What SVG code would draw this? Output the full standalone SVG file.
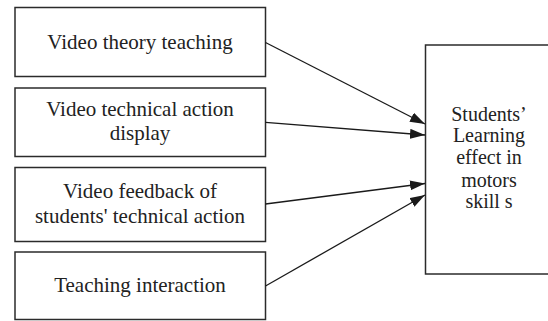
<svg xmlns="http://www.w3.org/2000/svg" width="548" height="321" viewBox="0 0 548 321">
<style>
.box{fill:#fff;stroke:#2b2b2b;stroke-width:1.5}
.lbl{font-family:'Liberation Serif','DejaVu Serif',serif;font-size:21px;fill:#222;text-anchor:middle}
.rl{font-size:20px}
.conn{stroke:#1a1a1a;stroke-width:1.3;fill:none;marker-end:url(#ah)}
</style>
<defs>
<marker id="ah" markerUnits="userSpaceOnUse" markerWidth="16" markerHeight="11" refX="15" refY="5" orient="auto" viewBox="0 0 16 11">
<path d="M0,0 L15,5 L0,10 z" fill="#1a1a1a"/>
</marker>
</defs>
<rect width="548" height="321" fill="#fff"/>
<g id="n1"><rect class="box" x="15" y="7.5" width="250.5" height="69"/><text class="lbl" font-family="Liberation Serif, serif" x="140" y="48.5">Video theory teaching</text></g>
<g id="n2"><rect class="box" x="15" y="88" width="250.5" height="68.5"/><text class="lbl" font-family="Liberation Serif, serif" x="140" y="116">Video technical action</text><text class="lbl" font-family="Liberation Serif, serif" x="140" y="140">display</text></g>
<g id="n3"><rect class="box" x="15" y="167.5" width="250.5" height="74"/><text class="lbl" font-family="Liberation Serif, serif" x="140" y="198">Video feedback of</text><text class="lbl" font-family="Liberation Serif, serif" x="140" y="223">students' technical action</text></g>
<g id="n4"><rect class="box" x="15" y="252" width="250.5" height="67.5"/><text class="lbl" font-family="Liberation Serif, serif" x="140" y="292">Teaching interaction</text></g>
<g id="n5"><rect class="box" x="425.5" y="45" width="130" height="229"/>
<text class="lbl rl" font-family="Liberation Serif, serif" x="489" y="120.5">Students’</text>
<text class="lbl rl" font-family="Liberation Serif, serif" x="489" y="142">Learning</text>
<text class="lbl rl" font-family="Liberation Serif, serif" x="489" y="164">effect in</text>
<text class="lbl rl" font-family="Liberation Serif, serif" x="489" y="186.5">motors</text>
<text class="lbl rl" font-family="Liberation Serif, serif" x="489" y="208">skill s</text>
</g>
<g id="connectors">
<line class="conn" x1="265.5" y1="42.5" x2="425" y2="124"/>
<line class="conn" x1="265.5" y1="122.3" x2="425" y2="135"/>
<line class="conn" x1="265.5" y1="204" x2="425" y2="183.5"/>
<line class="conn" x1="265.5" y1="286" x2="425" y2="195"/>
</g>
</svg>
